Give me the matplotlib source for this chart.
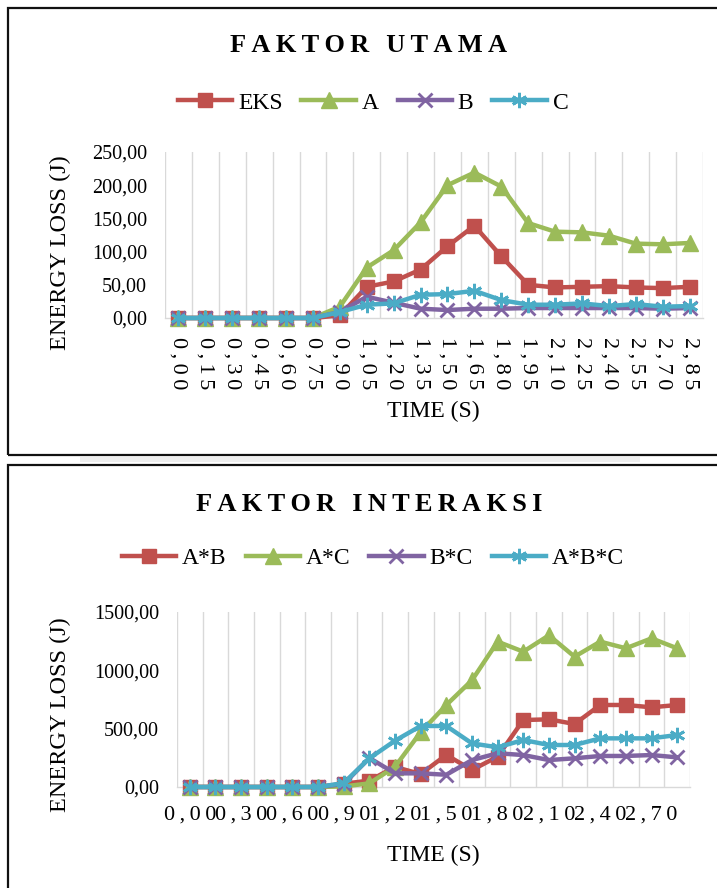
import matplotlib
matplotlib.use("Agg")
import matplotlib.pyplot as plt
from matplotlib.patches import Rectangle
from matplotlib.lines import Line2D

times = ["0,00", "0,15", "0,30", "0,45", "0,60", "0,75", "0,90", "1,05", "1,20", "1,35",
         "1,50", "1,65", "1,80", "1,95", "2,10", "2,25", "2,40", "2,55", "2,70", "2,85"]

# Faktor utama
eks = [0, 0, 0, 0, 0, 0, 4, 47, 55, 73, 108, 139, 93, 50, 46, 47, 48, 46, 45, 47]
a = [0, 0, 0, 0, 0, 0, 17, 76, 102, 144, 200, 219, 198, 143, 130, 129, 124, 112, 111, 113]
b = [0, 0, 0, 0, 0, 0, 9, 32, 23, 14, 12, 14, 14, 15, 15, 15, 15, 15, 14, 15]
c = [0, 0, 0, 0, 0, 0, 9, 20, 22, 35, 36, 41, 27, 20, 20, 22, 18, 21, 17, 18]

# Faktor interaksi
ab = [0, 0, 0, 0, 0, 0, 28, 55, 172, 111, 275, 146, 260, 574, 580, 540, 703, 703, 683, 703]
ac = [0, 0, 0, 0, 0, 0, 5, 31, 174, 470, 703, 915, 1246, 1160, 1300, 1117, 1246, 1189, 1274, 1189]
bc = [0, 0, 0, 0, 0, 0, 25, 249, 117, 117, 105, 231, 289, 274, 231, 246, 266, 266, 274, 254]
abc = [0, 0, 0, 0, 0, 0, 34, 246, 397, 523, 523, 374, 340, 403, 360, 360, 417, 417, 417, 446]

top_names = ["EKS", "A", "B", "C"]
bot_names = ["A*B", "A*C", "B*C", "A*B*C"]
top_title = "FAKTOR UTAMA"
bot_title = "FAKTOR INTERAKSI"
ylabel = "ENERGY LOSS (J)"
xlabel = "TIME (S)"

colors = ["#C0504D", "#9BBB59", "#8064A2", "#4BACC6"]
markers = ["s", "^", "x", (6, 2, 0)]
msizes = [10.5, 11.5, 9.5, 11]

SERIF = ["Liberation Serif", "DejaVu Serif"]
plt.rcParams["font.family"] = SERIF

W, H = 717, 888
fig = plt.figure(figsize=(W / 100, H / 100), dpi=100)

THIN = "\u2009"


def spaced(s, sep=THIN):
    return sep.join(list(s))


def px_axes(l, t, r, btm):
    return fig.add_axes([l / W, 1 - btm / H, (r - l) / W, (btm - t) / H])


def fmt(v):
    return f"{v:.2f}".replace(".", ",")


def mew_for(m):
    return 2.0 if (m == "x" or isinstance(m, tuple)) else 1.0


def draw(ax, series, ymax, ystep, rotated):
    x = list(range(len(times)))
    for s, col, m, ms in zip(series, colors, markers, msizes):
        ax.plot(x, s, color=col, lw=3.2, marker=m, markersize=ms,
                markeredgewidth=mew_for(m), markerfacecolor=col, markeredgecolor=col,
                solid_joinstyle="round", clip_on=False, zorder=3)
    ax.set_xlim(-0.5, len(times) - 0.5)
    ax.set_ylim(0, ymax)
    for k in range(len(times) + 1):
        ax.axvline(k - 0.5, color="#d9d9d9", lw=1.0, zorder=0)
    for sp in ["left", "right", "top"]:
        ax.spines[sp].set_visible(False)
    ax.spines["bottom"].set_color("#d9d9d9")
    ax.spines["bottom"].set_linewidth(1.0)
    yt = list(range(0, ymax + 1, ystep))
    ax.set_yticks(yt)
    ax.set_yticklabels([fmt(v) for v in yt], fontsize=14.5)
    ax.tick_params(axis="y", length=0, pad=13)
    ax.tick_params(axis="x", length=0)
    if rotated:
        ax.set_xticks(x)
        ax.set_xticklabels([spaced(t) for t in times], rotation=270, fontsize=16,
                           va="top", ha="center")
        ax.tick_params(axis="x", pad=14)
    else:
        ax.set_xticks(x[::2])
        ax.set_xticklabels([spaced(t) for t in times[::2]], fontsize=16)
        ax.tick_params(axis="x", pad=13)


# frames
fig.patches.append(Rectangle((8 / W, 1 - 455 / H), 1.0, (455 - 8) / H, transform=fig.transFigure,
                             fill=False, ec="#111111", lw=1.6))
fig.patches.append(Rectangle((8 / W, -0.05), 1.0, 1 - 465 / H + 0.05, transform=fig.transFigure,
                             fill=False, ec="#111111", lw=1.6))
fig.patches.append(Rectangle((80 / W, 1 - 462 / H), 560 / W, 5 / H, transform=fig.transFigure,
                             fill=True, fc="#eeeeee", ec="none", zorder=-1))

ax1 = px_axes(165, 152, 703, 318)
draw(ax1, [eks, a, b, c], 250, 50, True)
ax2 = px_axes(177, 612, 690, 787)
draw(ax2, [ab, ac, bc, abc], 1500, 500, False)

fig.text(369 / W, 1 - 46 / H, spaced(top_title), fontsize=19, fontweight="bold",
         ha="center", va="center")
fig.text(369 / W, 1 - 504 / H, spaced(bot_title), fontsize=19, fontweight="bold",
         ha="center", va="center")

for yc, yt in [(60, 253), (60, 715)]:
    fig.text(yc / W, 1 - yt / H, ylabel, rotation=90, fontsize=17.5, ha="center", va="center")
fig.text(433 / W, 1 - 411 / H, xlabel, fontsize=17, ha="center", va="center")
fig.text(433 / W, 1 - 855 / H, xlabel, fontsize=17, ha="center", va="center")


def legend(names, y):
    handles = [Line2D([], [], color=col, lw=3.2, marker=m, markersize=ms,
                      markeredgewidth=mew_for(m), markerfacecolor=col, markeredgecolor=col)
               for col, m, ms in zip(colors, markers, msizes)]
    fig.legend(handles, names, loc="center", bbox_to_anchor=(373 / W, 1 - y / H), ncol=4,
               frameon=False, fontsize=17, handlelength=2.3, columnspacing=0.8,
               handletextpad=0.25, borderaxespad=0, borderpad=0)


legend(top_names, 103)
legend(bot_names, 558)

fig.savefig("out.png", dpi=100)
